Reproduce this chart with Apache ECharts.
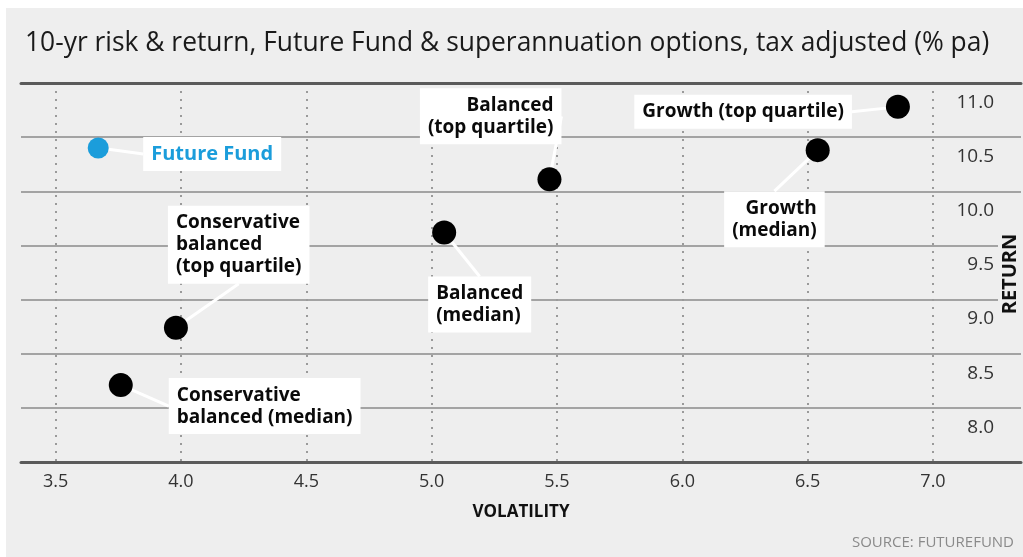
<!DOCTYPE html>
<html><head><meta charset="utf-8">
<script src="https://cdn.jsdelivr.net/npm/echarts@6/dist/echarts.min.js"></script>
<style>
html,body{margin:0;padding:0;background:#fff;}
#bg{position:absolute;left:6px;top:8px;width:1017px;height:549px;background:#eeeeee;}
#c{position:absolute;left:0;top:0;width:1023px;height:557px;}
</style>
</head><body><div id="bg"></div><div id="c"></div>
<script>
// ---- data ----
const names = ['Future Fund', 'Conservative\nbalanced\n(top quartile)', 'Conservative\nbalanced (median)', 'Balanced\n(median)', 'Balanced\n(top quartile)', 'Growth (top quartile)', 'Growth\n(median)'];
const volatility = [3.67, 3.98, 3.76, 5.05, 5.47, 6.86, 6.54];
const returns = [10.40, 8.74, 8.21, 9.62, 10.11, 10.78, 10.38];
const xTicks = [3.5, 4.0, 4.5, 5.0, 5.5, 6.0, 6.5, 7.0];
const yTicks = [8.0, 8.5, 9.0, 9.5, 10.0, 10.5, 11.0];
const titleText = '10-yr risk & return, Future Fund & superannuation options, tax adjusted (% pa)';
const sourceText = 'SOURCE: FUTUREFUND';
const xName = 'VOLATILITY';
const yName = 'RETURN';

// ---- styles (not data) ----
const dotColors = ['#1b9ddb', '#000', '#000', '#000', '#000', '#000', '#000'];
const dotSizes = [21, 24, 24, 24, 24, 24, 24];
const labelOffsets = [[45, 6], [-8, -83], [48, 21], [-16, 72], [12, -63], [-46, 5], [7, 69]];
const labelAligns = ['left', 'left', 'left', 'left', 'right', 'right', 'right'];
const labelColors = ['#1b9ddb', '#0a0a0a', '#0a0a0a', '#0a0a0a', '#0a0a0a', '#0a0a0a', '#0a0a0a'];
const labelSizes = [20, 19, 19, 19, 19, 19, 19];

const FONT = 'Open Sans';
const chart = echarts.init(document.getElementById('c'), null, {renderer: 'canvas'});

const seriesData = volatility.map((x, i) => ({
  value: [x, returns[i]],
  name: names[i],
  symbolSize: dotSizes[i],
  itemStyle: {color: dotColors[i], opacity: 1},
  label: {
    show: true,
    position: 'inside',
    offset: labelOffsets[i],
    align: labelAligns[i],
    verticalAlign: 'middle',
    formatter: '{b}',
    color: labelColors[i],
    fontFamily: FONT,
    fontWeight: 'bold',
    fontSize: labelSizes[i],
    lineHeight: 22,
    backgroundColor: '#ffffff',
    padding: [6, 8, 6, 8],
    textBorderWidth: 0,
    textBorderColor: 'transparent'
  }
}));

const option = {
  backgroundColor: 'transparent',
  animation: false,
  title: [
    {text: titleText, left: 20, top: 25, textStyle: {fontFamily: FONT, fontWeight: 'normal', fontSize: 26.4, color: '#1a1a1a'}},
    {text: sourceText, right: 4, top: 530, textStyle: {fontFamily: FONT, fontWeight: 'normal', fontSize: 15, color: '#8a8a8a'}}
  ],
  grid: {left: 21, right: 2, top: 83, bottom: 95, containLabel: false, outerBoundsMode: 'none'},
  xAxis: [{
    type: 'value', min: 3.362, max: 7.351, position: 'bottom',
    name: xName, nameLocation: 'middle', nameGap: 42,
    nameTextStyle: {fontFamily: FONT, fontWeight: 'bold', fontSize: 17, color: '#111'},
    axisLine: {show: true, lineStyle: {color: '#5a5a5a', width: 3}},
    axisTick: {show: false, customValues: xTicks},
    axisLabel: {customValues: xTicks, margin: 11, fontFamily: FONT, fontSize: 18, color: '#333', formatter: v => v.toFixed(1)},
    splitLine: {show: true, lineStyle: {color: '#9a9a9a', width: 2, type: [2, 6]}}
  }, {
    type: 'value', min: 3.362, max: 7.351, position: 'top',
    axisLine: {show: true, lineStyle: {color: '#5a5a5a', width: 3}},
    axisTick: {show: false}, axisLabel: {show: false}, splitLine: {show: false}
  }],
  yAxis: {
    type: 'value', min: 7.5, max: 11.0, interval: 0.5, position: 'right',
    axisLine: {show: false}, axisTick: {show: false},
    axisLabel: {inside: true, margin: 27, customValues: yTicks, verticalAlign: 'top', padding: [10, 0, 0, 0],
      fontFamily: FONT, fontSize: 19, color: '#333', formatter: v => v.toFixed(1)},
    splitLine: {show: true, lineStyle: {color: '#8a8a8a', width: 1.6}}
  },
  graphic: [{
    type: 'text', x: 1010, y: 274, rotation: Math.PI / 2, z: 100,
    style: {text: yName, fontFamily: FONT, fontWeight: 'bold', fontSize: 20, fill: '#111',
      align: 'center', verticalAlign: 'middle', backgroundColor: '#eeeeee', padding: [4, 4, 0, 4]}
  }],
  series: [{
    type: 'scatter',
    xAxisIndex: 0,
    data: seriesData,
    labelLine: {show: true, lineStyle: {color: '#ffffff', width: 3}},
    emphasis: {disabled: true}
  }]
};
chart.setOption(option);
</script>
</body></html>
